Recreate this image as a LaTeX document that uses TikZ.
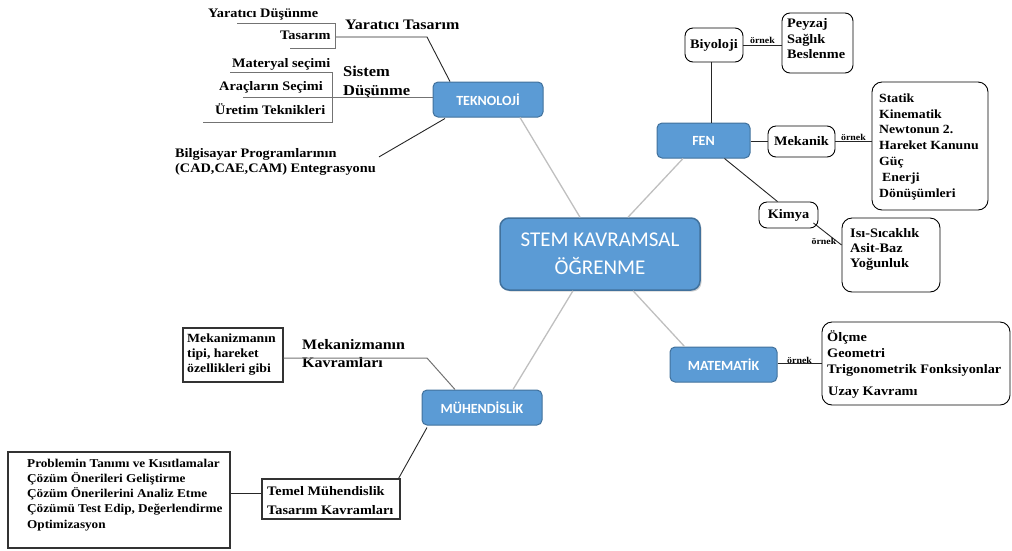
\documentclass[tikz,border=0pt]{standalone}
\usepackage{fontspec}
\setmainfont{Liberation Serif}
\newfontfamily\lbs[FakeStretch=1.1]{Liberation Serif}
\newfontfamily\carl{Carlito}
\usetikzlibrary{calc,shadows}
\definecolor{stemblue}{HTML}{5B9BD5}
\definecolor{stemedge}{HTML}{41719C}
\definecolor{linegray}{HTML}{BFBFBF}
\begin{document}
\begin{tikzpicture}[x=1pt,y=-1pt,
  bluebox/.style={draw=stemedge, line width=1pt, fill=stemblue, rounded corners=5pt, text=white, font=\carl\bfseries\fontsize{14}{16}\selectfont, inner sep=0pt},
  rbox/.style={draw=black, line width=0.9pt, rounded corners=8pt, inner sep=0pt, font=\lbs\bfseries\fontsize{13}{16}\selectfont},
  sbox/.style={draw=black!80, line width=1.1pt, inner sep=0pt},
  lab/.style={font=\lbs\bfseries\fontsize{13}{16}\selectfont, inner sep=0pt, align=left},
  biglab/.style={font=\lbs\bfseries\fontsize{14.5}{18}\selectfont, inner sep=0pt, align=left},
  ornek/.style={font=\lbs\bfseries\fontsize{9}{10}\selectfont, inner sep=0.5pt},
  conn/.style={line width=0.9pt, draw=black!85},
  bconn/.style={line width=1pt, draw=black!55},
  gconn/.style={line width=1.3pt, draw=linegray}]
\useasboundingbox (0,0) rectangle (1012,550);

% main boxes
\node[bluebox, minimum width=200pt, minimum height=72pt, rounded corners=9pt, line width=1.5pt,
  font=\carl\fontsize{21}{28}\selectfont, align=center,
  drop shadow={shadow xshift=1.5pt, shadow yshift=-1.5pt, opacity=0.35}] (stem) at (600,254) {STEM KAVRAMSAL\\ÖĞRENME};
\node[bluebox, minimum width=110pt, minimum height=35pt] (teknoloji) at (488,99.5) {TEKNOLOJİ};
\node[bluebox, minimum width=93pt, minimum height=35pt] (fen) at (703.5,140.5) {FEN};
\node[bluebox, minimum width=107pt, minimum height=35pt] (matematik) at (723.5,364.5) {MATEMATİK};
\node[bluebox, minimum width=120pt, minimum height=35pt] (muhendislik) at (482,407.5) {MÜHENDİSLİK};

\draw[gconn] ($(stem.north)+(-20,0)$) -- ($(teknoloji.south)+(32,0)$);
\draw[gconn] ($(stem.north)+(28,0)$) -- ($(fen.south)+(-20.5,0)$);
\draw[gconn] ($(stem.south)+(-27,0)$) -- ($(muhendislik.north)+(31,0)$);
\draw[gconn] ($(stem.south)+(33,0)$) -- ($(matematik.north west)+(15,0)$);

% TEKNOLOJI branch
\node[lab, anchor=west] (yd) at (208,14) {Yaratıcı Düşünme};
\node[lab, anchor=west] (tas) at (280,35) {Tasarım};
\node[biglab, anchor=west] (yt) at (345,25) {Yaratıcı Tasarım};
\coordinate (ytk) at (427,37);
\coordinate (ytb) at (335,37);
\draw[conn] ($(teknoloji.north)+(-38,0)$) -- (ytk) -- (ytb);
\draw[bconn] (237,23) -- (335,23) -- (335,48) -- (290,48);

\node[biglab, anchor=north west, font=\lbs\bfseries\fontsize{15}{19}\selectfont] (sd) at (343,65.5) {Sistem\\Düşünme};
\node[lab, anchor=west] (mat) at (232,64) {Materyal seçimi};
\node[lab, anchor=west] (arac) at (219,87) {Araçların Seçimi};
\node[lab, anchor=west] (uret) at (215,109) {Üretim Teknikleri};
\coordinate (sdend) at (243,97);
\draw[bconn] ($(teknoloji.west)+(0,-2.5)$) -- (sdend);
\draw[bconn] (230,72) -- (332,72) -- (332,122) -- (203,122);

\node[lab, anchor=north west, font=\lbs\bfseries\fontsize{13}{14.5}\selectfont] (bilg) at (175,148.5) {Bilgisayar Programlarının\\(CAD,CAE,CAM) Entegrasyonu};
\draw[conn] ($(teknoloji.south)+(-43,1)$) -- ($(bilg.east)+(3,-5)$);

% FEN branch
\node[rbox, minimum width=58pt, minimum height=34pt] (biyoloji) at (714,45) {Biyoloji};
\node[rbox, minimum width=71pt, minimum height=60pt] (peyzaj) at (817.5,43) {};
\node[lab, anchor=north west, font=\lbs\bfseries\fontsize{13}{15.5}\selectfont] (peyzajt) at (787,18.5) {Peyzaj\\Sağlık\\Beslenme};
\coordinate (bv) at ($(biyoloji.south)+(-3,0)$);
\draw[conn] (bv) -- (bv |- fen.north);
\draw[conn] (biyoloji.east) -- (biyoloji.east -| peyzaj.west) node[ornek, midway, anchor=south] (o1) {örnek};

\node[rbox, minimum width=67pt, minimum height=31pt] (mekanik) at (801.5,141.5) {Mekanik};
\node[rbox, minimum width=116pt, minimum height=128pt, rounded corners=10pt] (fenbox) at (930,146) {};
\node[lab, anchor=north west, font=\lbs\bfseries\fontsize{12.5}{15.8}\selectfont] (fent) at (879,93.5) {Statik\\Kinematik\\Newtonun 2.\\Hareket Kanunu\\Güç\\\hspace{3pt}Enerji\\Dönüşümleri};
\draw[conn] (fen.east |- mekanik.west) -- (mekanik.west);
\draw[conn] (mekanik.east) -- (mekanik.east -| fenbox.west) node[ornek, midway, anchor=south] (o2) {örnek};

\node[rbox, minimum width=59pt, minimum height=26pt] (kimya) at (788.5,215) {Kimya};
\node[rbox, minimum width=98pt, minimum height=74pt, rounded corners=10pt] (isi) at (891,255) {};
\node[lab, anchor=north west, font=\lbs\bfseries\fontsize{13}{15}\selectfont] (isit) at (850,228.5) {Isı-Sıcaklık\\Asit-Baz\\Yoğunluk};
\draw[conn] ($(fen.south)+(21,0)$) -- ($(kimya.north)+(-11,0)$);
\draw[conn] ($(kimya.east)+(-5,8)$) -- ($(isi.west)+(0,-10)$);
\node[ornek] (o3) at (824,241) {örnek};

% MATEMATIK branch
\node[rbox, minimum width=188pt, minimum height=83pt, rounded corners=10pt] (matbox) at (916,363.5) {};
\node[lab, anchor=north west, font=\lbs\bfseries\fontsize{13}{16}\selectfont] (matt) at (827,330.5) {Ölçme\\Geometri\\Trigonometrik Fonksiyonlar\\[6pt]\hspace{1pt}Uzay Kavramı};
\draw[conn] (matematik.east |- 0,363) -- (matbox.west |- 0,363) node[ornek, pos=0.5, anchor=south, yshift=-1.5pt] (o4) {örnek};

% MUHENDISLIK branch
\node[sbox, minimum width=100pt, minimum height=54pt] (mekbox) at (233,355) {};
\node[lab, anchor=north west, font=\lbs\bfseries\fontsize{12.5}{15}\selectfont] (mekt) at (187,333.5) {Mekanizmanın\\tipi, hareket\\özellikleri gibi};
\node[biglab, anchor=north west] (mkv) at (302,339.5) {Mekanizmanın\\Kavramları};
\coordinate (mk) at (427,358);
\draw[bconn] ($(muhendislik.north)+(-27,0)$) -- (mk) -- (mk -| mekbox.east);

\node[sbox, minimum width=138pt, minimum height=40pt] (temel) at (331,499) {};
\node[lab, anchor=north west, font=\lbs\bfseries\fontsize{13}{19}\selectfont] (temelt) at (267,486.5) {Temel Mühendislik\\Tasarım Kavramları};
\draw[conn] ($(muhendislik.south)+(-55,2)$) -- ($(temel.north east)+(-2,0)$);

\node[sbox, minimum width=222pt, minimum height=96pt] (prob) at (119,500) {};
\node[lab, anchor=north west, font=\lbs\bfseries\fontsize{12}{15.3}\selectfont] (probt) at (27,458.5) {Problemin Tanımı ve Kısıtlamalar\\Çözüm Önerileri Geliştirme\\Çözüm Önerilerini Analiz Etme\\Çözümü Test Edip, Değerlendirme\\Optimizasyon};
\coordinate (tw) at ($(temel.west)+(0,-6)$);
\draw[conn] (tw) -- (tw -| prob.east);
\end{tikzpicture}
\end{document}
